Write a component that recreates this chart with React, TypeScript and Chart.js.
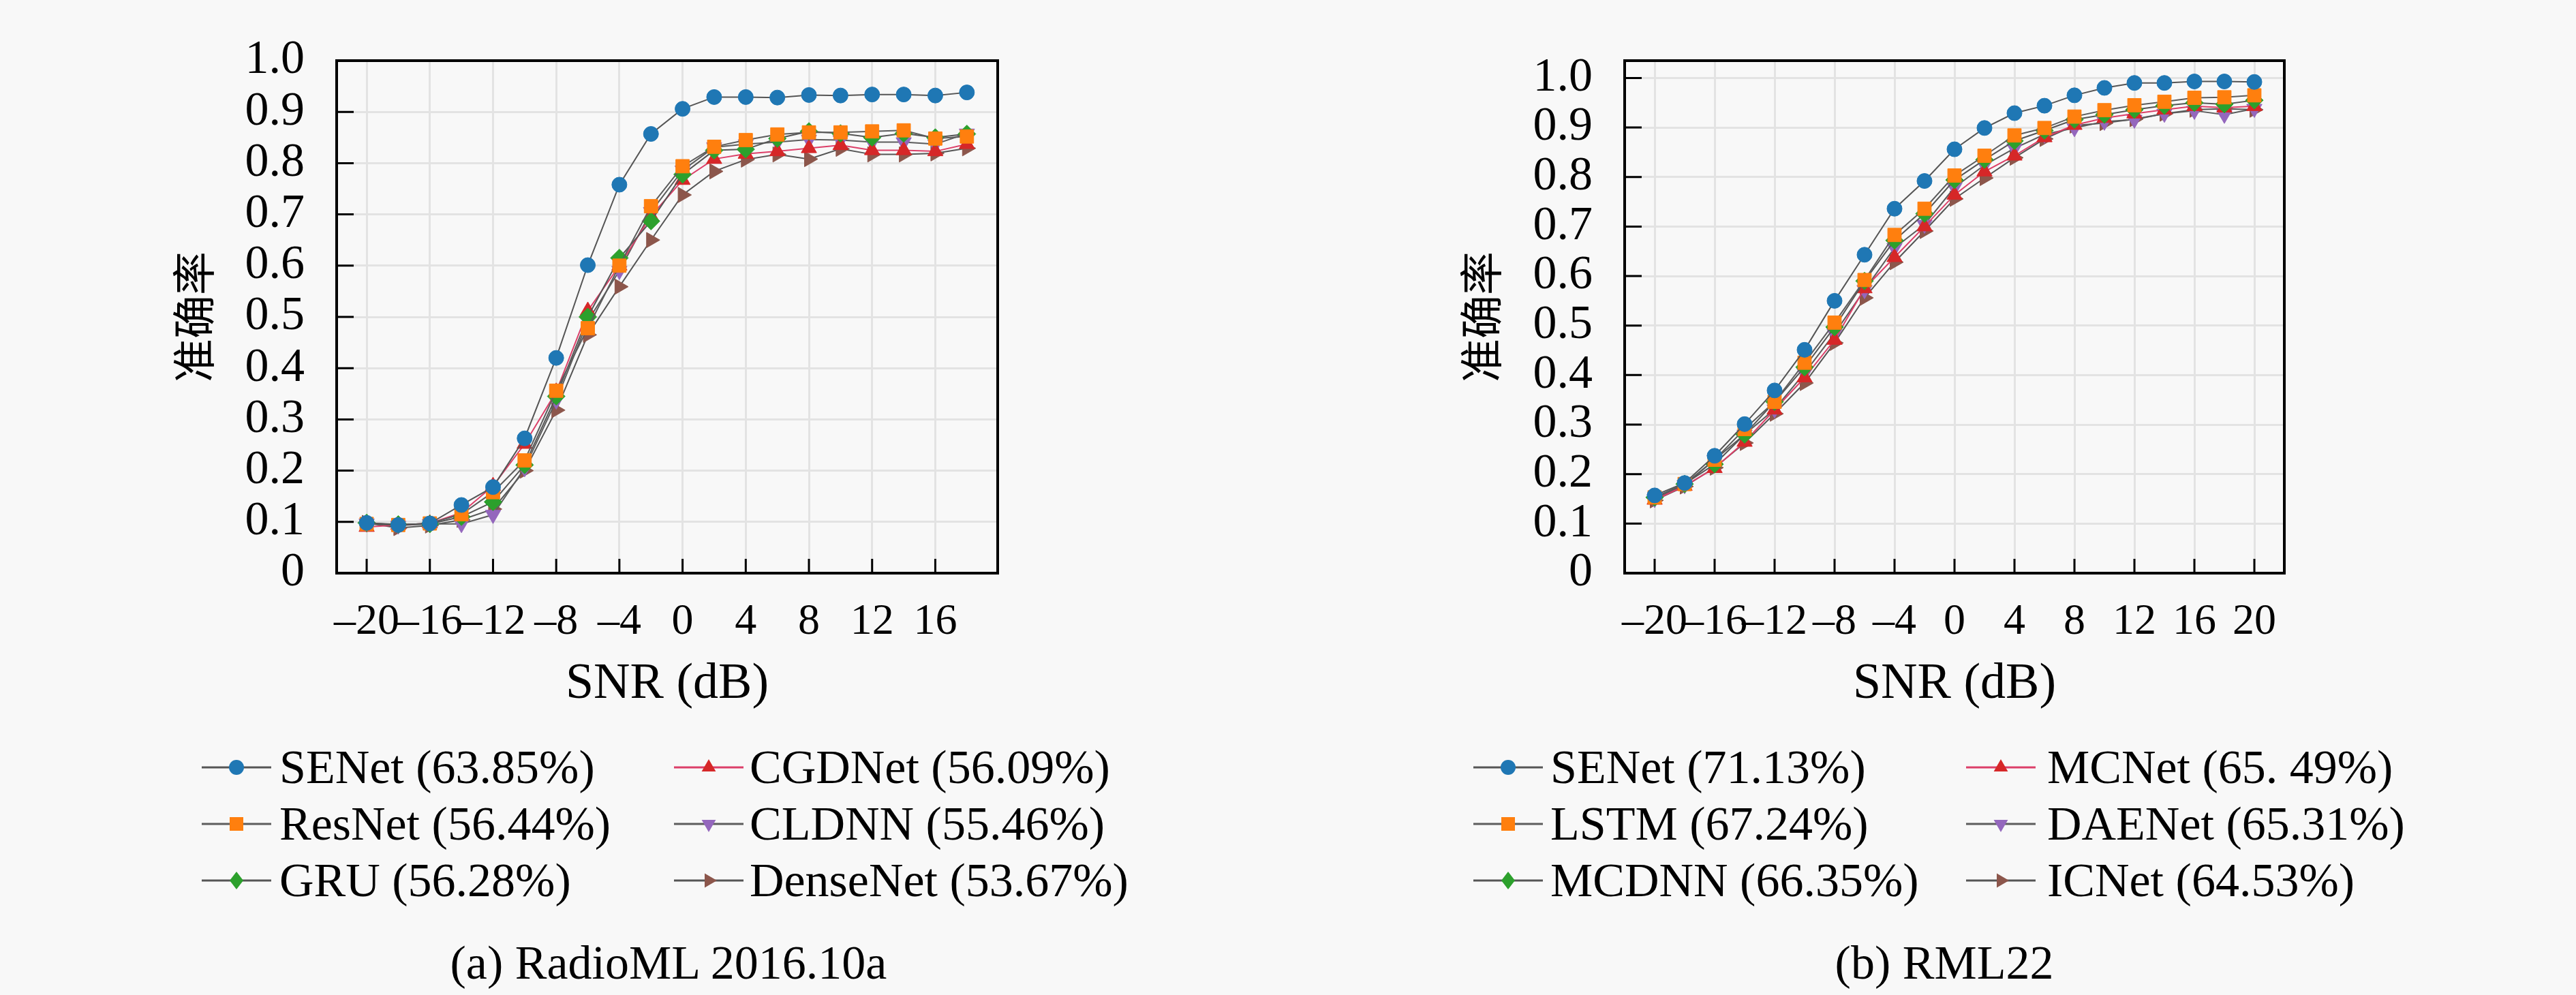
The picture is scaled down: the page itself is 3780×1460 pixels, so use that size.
import { useEffect, useRef } from "react"
import { Chart, registerables } from "chart.js"

Chart.register(...registerables)
Chart.defaults.color = "#000"

// SNR grid (dB)
const snrA = [-20, -18, -16, -14, -12, -10, -8, -6, -4, -2, 0, 2, 4, 6, 8, 10, 12, 14, 16, 18]
const snrB = [-20, -18, -16, -14, -12, -10, -8, -6, -4, -2, 0, 2, 4, 6, 8, 10, 12, 14, 16, 18, 20]

// (a) RadioML 2016.10a
const senetA = [0.098, 0.094, 0.097, 0.133, 0.168, 0.263, 0.42, 0.601, 0.758, 0.857, 0.906, 0.929, 0.929, 0.928, 0.933, 0.932, 0.934, 0.934, 0.932, 0.938]
const resnetA = [0.096, 0.094, 0.097, 0.115, 0.158, 0.22, 0.356, 0.478, 0.6, 0.716, 0.794, 0.832, 0.845, 0.856, 0.86, 0.86, 0.862, 0.864, 0.848, 0.852]
const gruA = [0.098, 0.095, 0.096, 0.11, 0.139, 0.211, 0.345, 0.5, 0.615, 0.687, 0.778, 0.825, 0.827, 0.848, 0.862, 0.858, 0.85, 0.858, 0.85, 0.857]
const cgdnetA = [0.09, 0.094, 0.097, 0.118, 0.17, 0.252, 0.354, 0.512, 0.6, 0.697, 0.767, 0.808, 0.818, 0.823, 0.829, 0.835, 0.825, 0.825, 0.823, 0.837]
const cldnnA = [0.097, 0.093, 0.096, 0.096, 0.114, 0.205, 0.337, 0.492, 0.59, 0.705, 0.786, 0.831, 0.837, 0.841, 0.846, 0.845, 0.841, 0.841, 0.837, 0.858]
const densenetA = [0.098, 0.088, 0.093, 0.104, 0.125, 0.2, 0.318, 0.465, 0.559, 0.65, 0.738, 0.784, 0.807, 0.817, 0.808, 0.828, 0.817, 0.817, 0.819, 0.829]
const labelsA = ["SENet (63.85%)", "ResNet (56.44%)", "GRU (56.28%)", "CGDNet (56.09%)", "CLDNN (55.46%)", "DenseNet (53.67%)"]

// (b) RML22
const senetB = [0.157, 0.182, 0.237, 0.301, 0.369, 0.451, 0.55, 0.643, 0.736, 0.792, 0.856, 0.899, 0.929, 0.944, 0.965, 0.98, 0.99, 0.99, 0.993, 0.993, 0.992]
const lstmB = [0.153, 0.18, 0.229, 0.291, 0.346, 0.425, 0.506, 0.592, 0.683, 0.736, 0.803, 0.843, 0.884, 0.899, 0.922, 0.935, 0.945, 0.952, 0.96, 0.961, 0.965]
const mcdnnB = [0.153, 0.18, 0.22, 0.28, 0.346, 0.416, 0.497, 0.59, 0.672, 0.726, 0.794, 0.835, 0.873, 0.894, 0.916, 0.926, 0.936, 0.944, 0.95, 0.947, 0.955]
const mcnetB = [0.148, 0.176, 0.212, 0.265, 0.33, 0.395, 0.471, 0.575, 0.638, 0.7, 0.764, 0.811, 0.843, 0.88, 0.905, 0.919, 0.928, 0.936, 0.943, 0.94, 0.943]
const daenetB = [0.15, 0.178, 0.229, 0.28, 0.331, 0.404, 0.484, 0.572, 0.657, 0.704, 0.779, 0.824, 0.858, 0.886, 0.899, 0.912, 0.916, 0.928, 0.934, 0.926, 0.938]
const icnetB = [0.147, 0.175, 0.213, 0.263, 0.322, 0.384, 0.465, 0.556, 0.628, 0.691, 0.756, 0.798, 0.839, 0.877, 0.904, 0.909, 0.917, 0.928, 0.936, 0.938, 0.936]
const labelsB = ["SENet (71.13%)", "LSTM (67.24%)", "MCDNN (66.35%)", "MCNet (65. 49%)", "DAENet (65.31%)", "ICNet (64.53%)"]

// axes
const xTicksA = [-20, -16, -12, -8, -4, 0, 4, 8, 12, 16]
const xTickLabelsA = ["\u201320", "\u201316", "\u201312", "\u20138", "\u20134", "0", "4", "8", "12", "16"]
const xTicksB = [-20, -16, -12, -8, -4, 0, 4, 8, 12, 16, 20]
const xTickLabelsB = ["\u201320", "\u201316", "\u201312", "\u20138", "\u20134", "0", "4", "8", "12", "16", "20"]
const yTicks = [0, 0.1, 0.2, 0.3, 0.4, 0.5, 0.6, 0.7, 0.8, 0.9, 1.0]
const yTickLabels = ["0", "0.1", "0.2", "0.3", "0.4", "0.5", "0.6", "0.7", "0.8", "0.9", "1.0"]

// marker styles, same order for both panels
const styles = [
  { color: "#1f77b4", shape: "circle", radius: 11, rotation: 0, line: "#555555" },
  { color: "#ff7f0e", shape: "rect", radius: 14, rotation: 0, line: "#5c5c5c" },
  { color: "#2ca02c", shape: "rectRot", radius: 13, rotation: 0, line: "#555555" },
  { color: "#d62728", shape: "triangle", radius: 13, rotation: 0, line: "#dc3f68" },
  { color: "#9467bd", shape: "triangle", radius: 13, rotation: 180, line: "#5c5c5c" },
  { color: "#8c564b", shape: "triangle", radius: 13, rotation: 90, line: "#555555" },
]

const SERIF = "'Liberation Serif', 'Times New Roman', serif"

// inward tick marks and the black frame
const framePlugin = {
  id: "frame",
  afterDraw(chart: any) {
    const { ctx, chartArea: a, scales } = chart
    ctx.save()
    ctx.strokeStyle = "#000"
    ctx.lineWidth = 3
    ctx.beginPath()
    scales.x.ticks.forEach((t: any) => {
      const px = scales.x.getPixelForValue(t.value)
      ctx.moveTo(px, a.bottom)
      ctx.lineTo(px, a.bottom - 21)
    })
    scales.y.ticks.forEach((t: any) => {
      const py = scales.y.getPixelForValue(t.value)
      ctx.moveTo(a.left, py)
      ctx.lineTo(a.left + 25, py)
    })
    ctx.stroke()
    ctx.lineWidth = 4
    ctx.strokeRect(a.left, a.top, a.right - a.left, a.bottom - a.top)
    ctx.restore()
  },
}

type PanelProps = {
  left: number
  snr: number[]
  series: number[][]
  labels: string[]
  xMin: number
  xMax: number
  xTicks: number[]
  xTickLabels: string[]
  yMax: number
  padRight: number
  yWidth: number
  yTitlePad: number
}

function Panel(p: PanelProps) {
  const chartRef = useRef<HTMLCanvasElement>(null)

  useEffect(() => {
    if (!chartRef.current) return
    const chart = new Chart(chartRef.current, {
      type: "line",
      data: {
        datasets: p.series.map((vals, i) => ({
          label: p.labels[i],
          data: p.snr.map((x, j) => ({ x, y: vals[j] })),
          borderColor: styles[i].line,
          borderWidth: 2,
          backgroundColor: styles[i].color,
          pointBackgroundColor: styles[i].color,
          pointBorderColor: styles[i].color,
          pointBorderWidth: 1,
          pointStyle: styles[i].shape as any,
          pointRadius: styles[i].radius,
          pointRotation: styles[i].rotation,
          tension: 0,
        })),
      },
      options: {
        animation: false,
        responsive: true,
        maintainAspectRatio: false,
        layout: { padding: { top: 32, right: p.padRight, left: 0, bottom: 0 } },
        plugins: { legend: { display: false }, tooltip: { enabled: false } },
        scales: {
          x: {
            type: "linear",
            min: p.xMin,
            max: p.xMax,
            afterBuildTicks: (s: any) => {
              s.ticks = p.xTicks.map((value) => ({ value }))
            },
            afterFit: (s: any) => {
              s.height = 219
            },
            grid: { color: "#e3e3e3", lineWidth: 3, drawTicks: false },
            border: { display: false },
            ticks: {
              autoSkip: false,
              maxRotation: 0,
              padding: 34,
              color: "#000",
              font: { family: SERIF, size: 64, lineHeight: 1.2 },
              callback: (_v: any, i: number) => p.xTickLabels[i],
            },
            title: {
              display: true,
              text: "SNR (dB)",
              color: "#000",
              font: { family: SERIF, size: 74, lineHeight: 1.2 },
              padding: { top: 0, bottom: 11 },
            },
          },
          y: {
            type: "linear",
            min: 0,
            max: p.yMax,
            afterBuildTicks: (s: any) => {
              s.ticks = yTicks.map((value) => ({ value }))
            },
            afterFit: (s: any) => {
              s.width = p.yWidth
            },
            grid: { color: "#e3e3e3", lineWidth: 3, drawTicks: false },
            border: { display: false },
            ticks: {
              autoSkip: false,
              padding: 47,
              color: "#000",
              font: { family: SERIF, size: 70, lineHeight: 1.2 },
              callback: (_v: any, i: number) => yTickLabels[i],
            },
            title: {
              display: true,
              text: "准确率",
              color: "#000",
              font: { family: "'Noto Sans CJK SC', sans-serif", size: 64, lineHeight: 1.2 },
              padding: { top: p.yTitlePad, bottom: 0 },
            },
          },
        },
      },
      plugins: [framePlugin],
    })
    return () => chart.destroy()
  }, [])

  return (
    <div style={{ position: "absolute", left: p.left, top: 0, width: 1300, height: 1060 }}>
      <canvas ref={chartRef} />
    </div>
  )
}

function Swatch({ i }: { i: number }) {
  const s = styles[i]
  const cx = 51
  const cy = 20
  let mark
  if (s.shape === "circle") {
    mark = <circle cx={cx} cy={cy} r={11} fill={s.color} />
  } else if (s.shape === "rect") {
    mark = <rect x={cx - 10} y={cy - 10} width={20} height={20} fill={s.color} />
  } else if (s.shape === "rectRot") {
    mark = <polygon points={`${cx},${cy - 13} ${cx + 10},${cy} ${cx},${cy + 13} ${cx - 10},${cy}`} fill={s.color} />
  } else {
    const r = 12
    const pts = [0, 120, 240]
      .map((a) => {
        const rad = ((a + s.rotation) * Math.PI) / 180
        return `${cx + Math.sin(rad) * r},${cy - Math.cos(rad) * r}`
      })
      .join(" ")
    mark = <polygon points={pts} fill={s.color} />
  }
  return (
    <svg width={102} height={40} style={{ position: "absolute", left: 0, top: 22 }}>
      <line x1={0} y1={cy} x2={102} y2={cy} stroke={s.line} strokeWidth={3} />
      {mark}
    </svg>
  )
}

const legendRows = [1126, 1209, 1292]
const legendOrder = [
  [0, 3],
  [1, 4],
  [2, 5],
]

function Legend({ labels, cols }: { labels: string[]; cols: number[][] }) {
  return (
    <>
      {legendOrder.map((row, r) =>
        row.map((idx, c) => (
          <div
            key={`${r}-${c}`}
            style={{ position: "absolute", left: cols[c][0], top: legendRows[r] - 42, height: 84, width: 900 }}
          >
            <Swatch i={idx} />
            <span
              style={{
                position: "absolute",
                left: cols[c][1] - cols[c][0],
                top: 0,
                lineHeight: "84px",
                fontSize: 70,
                fontFamily: SERIF,
                whiteSpace: "nowrap",
              }}
            >
              {labels[idx]}
            </span>
          </div>
        ))
      )}
    </>
  )
}

function Caption({ text, cx }: { text: string; cx: number }) {
  return (
    <div
      style={{
        position: "absolute",
        left: cx - 500,
        width: 1000,
        top: 1371,
        height: 84,
        lineHeight: "84px",
        textAlign: "center",
        fontSize: 70,
        fontFamily: SERIF,
      }}
    >
      {text}
    </div>
  )
}

export default function App() {
  useEffect(() => {
    document.body.style.margin = "0"
    document.body.style.background = "#f8f8f8"
  }, [])

  return (
    <div style={{ position: "absolute", left: 0, top: 0, width: 3780, height: 1460, background: "#f8f8f8", overflow: "hidden" }}>
      <Panel
        left={200}
        snr={snrA}
        series={[senetA, resnetA, gruA, cgdnetA, cldnnA, densenetA]}
        labels={labelsA}
        xMin={-21.9}
        xMax={19.95}
        xTicks={xTicksA}
        xTickLabels={xTickLabelsA}
        yMax={1.0}
        padRight={36}
        yWidth={294}
        yTitlePad={45}
      />
      <Panel
        left={2080}
        snr={snrB}
        series={[senetB, lstmB, mcdnnB, mcnetB, daenetB, icnetB]}
        labels={labelsB}
        xMin={-22}
        xMax={22}
        xTicks={xTicksB}
        xTickLabels={xTickLabelsB}
        yMax={1.035}
        padRight={28}
        yWidth={304}
        yTitlePad={54}
      />
      <Legend labels={labelsA} cols={[[296, 410], [989, 1100]]} />
      <Legend labels={labelsB} cols={[[2162, 2275], [2885, 3004]]} />
      <Caption text="(a) RadioML 2016.10a" cx={981} />
      <Caption text="(b) RML22" cx={2853} />
    </div>
  )
}
